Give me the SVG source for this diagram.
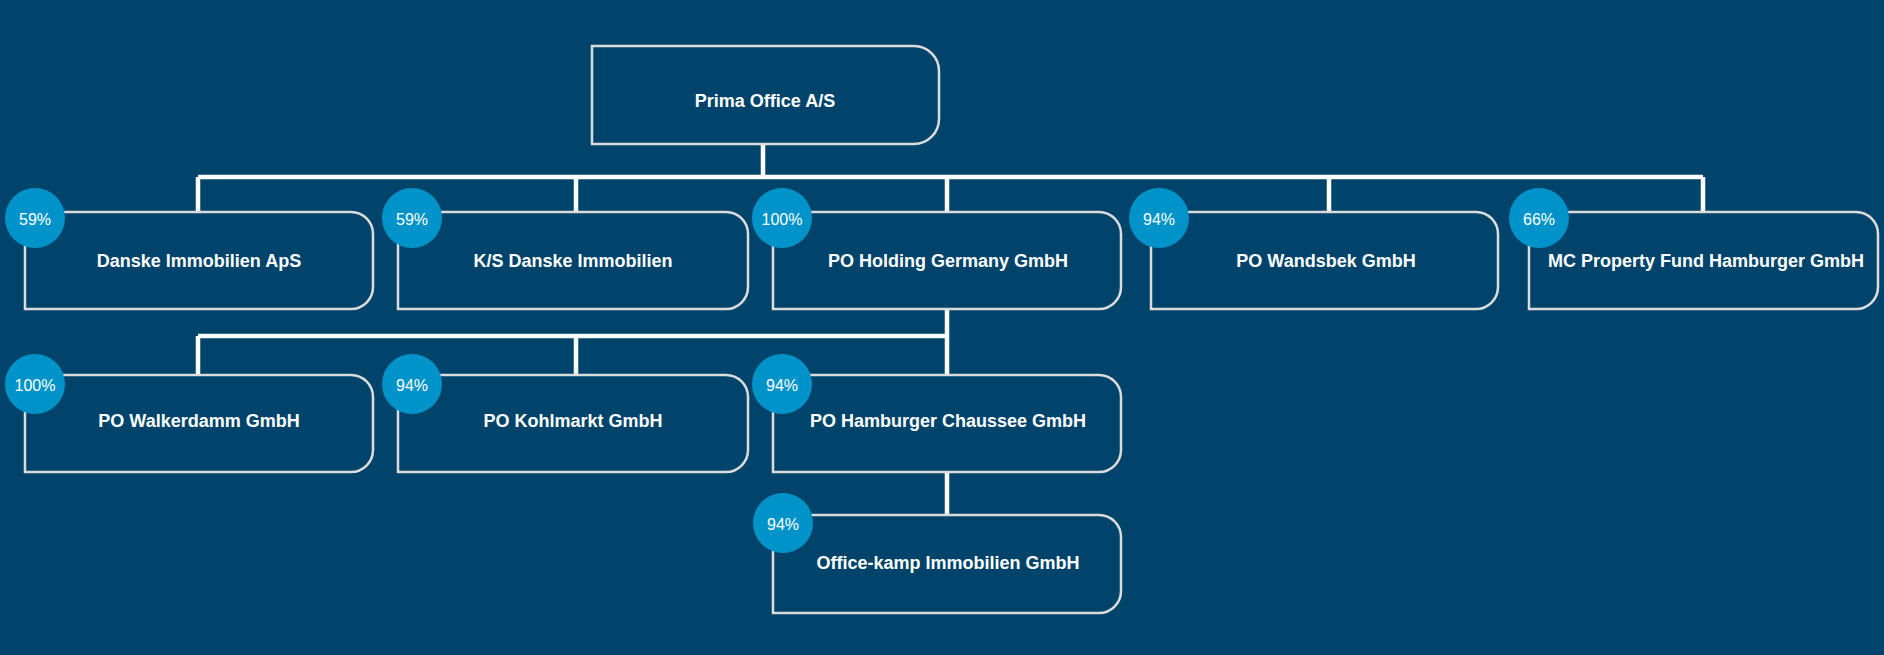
<svg xmlns="http://www.w3.org/2000/svg" width="1884" height="655" viewBox="0 0 1884 655">
<style>
.box{fill:#00446B;stroke:#DCDCDC;stroke-width:2.5}
.lbl{font-family:"Liberation Sans",Arial,sans-serif;font-weight:bold;font-size:18px;fill:#FFFFFF;text-anchor:middle}
.pct{font-family:"Liberation Sans",Arial,sans-serif;font-size:16px;fill:#FFFFFF;text-anchor:middle}
.badge{fill:#0093C9}
.conn{stroke:#FFFFFF;stroke-width:4.5;fill:none}
</style>
<rect x="0" y="0" width="1884" height="655" fill="#00446B"/>
<g id="connectors">
<path class="conn" d="M763 144V177M198 177H1703M198 177V212M576 177V212M947 177V212M1329 177V212M1703 177V212"/>
<path class="conn" d="M947 309V375M198 336H947M198 336V375M576 336V375M947 472V515"/>
</g>
<g id="n-root">
<path class="box" d="M592 46H914A25 25 0 0 1 939 71V119A25 25 0 0 1 914 144H592Z"/>
<text class="lbl" x="765" y="107">Prima Office A/S</text>
</g>
<g id="n-danske">
<path class="box" d="M25 212H351A22 22 0 0 1 373 234V287A22 22 0 0 1 351 309H25Z"/>
<text class="lbl" x="199" y="267">Danske Immobilien ApS</text>
<circle class="badge" cx="35" cy="218" r="30"/>
<text class="pct" x="35" y="225">59%</text>
</g>
<g id="n-ks">
<path class="box" d="M398 212H726A22 22 0 0 1 748 234V287A22 22 0 0 1 726 309H398Z"/>
<text class="lbl" x="573" y="267">K/S Danske Immobilien</text>
<circle class="badge" cx="412" cy="218" r="30"/>
<text class="pct" x="412" y="225">59%</text>
</g>
<g id="n-holding">
<path class="box" d="M773 212H1099A22 22 0 0 1 1121 234V287A22 22 0 0 1 1099 309H773Z"/>
<text class="lbl" x="948" y="267">PO Holding Germany GmbH</text>
<circle class="badge" cx="782" cy="218" r="30"/>
<text class="pct" x="782" y="225">100%</text>
</g>
<g id="n-wandsbek">
<path class="box" d="M1151 212H1476A22 22 0 0 1 1498 234V287A22 22 0 0 1 1476 309H1151Z"/>
<text class="lbl" x="1326" y="267">PO Wandsbek GmbH</text>
<circle class="badge" cx="1159" cy="218" r="30"/>
<text class="pct" x="1159" y="225">94%</text>
</g>
<g id="n-mc">
<path class="box" d="M1529 212H1856A22 22 0 0 1 1878 234V287A22 22 0 0 1 1856 309H1529Z"/>
<text class="lbl" x="1706" y="267">MC Property Fund Hamburger GmbH</text>
<circle class="badge" cx="1539" cy="218" r="30"/>
<text class="pct" x="1539" y="225">66%</text>
</g>
<g id="n-walkerdamm">
<path class="box" d="M25 375H351A22 22 0 0 1 373 397V450A22 22 0 0 1 351 472H25Z"/>
<text class="lbl" x="199" y="427">PO Walkerdamm GmbH</text>
<circle class="badge" cx="35" cy="384" r="30"/>
<text class="pct" x="35" y="391">100%</text>
</g>
<g id="n-kohlmarkt">
<path class="box" d="M398 375H726A22 22 0 0 1 748 397V450A22 22 0 0 1 726 472H398Z"/>
<text class="lbl" x="573" y="427">PO Kohlmarkt GmbH</text>
<circle class="badge" cx="412" cy="384" r="30"/>
<text class="pct" x="412" y="391">94%</text>
</g>
<g id="n-chaussee">
<path class="box" d="M773 375H1099A22 22 0 0 1 1121 397V450A22 22 0 0 1 1099 472H773Z"/>
<text class="lbl" x="948" y="427">PO Hamburger Chaussee GmbH</text>
<circle class="badge" cx="782" cy="384" r="30"/>
<text class="pct" x="782" y="391">94%</text>
</g>
<g id="n-officekamp">
<path class="box" d="M773 515H1099A22 22 0 0 1 1121 537V591A22 22 0 0 1 1099 613H773Z"/>
<text class="lbl" x="948" y="569">Office-kamp Immobilien GmbH</text>
<circle class="badge" cx="783" cy="523" r="30"/>
<text class="pct" x="783" y="530">94%</text>
</g>
</svg>
